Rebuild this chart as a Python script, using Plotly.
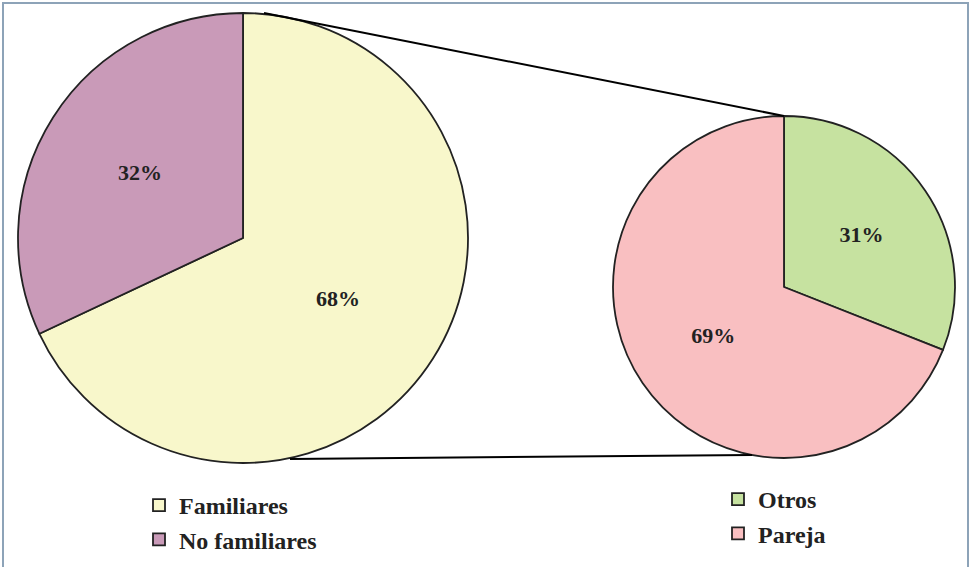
import plotly.graph_objects as go

W, H = 970, 567

main_labels = ["Familiares", "No familiares"]
main_values = [68, 32]
main_colors = ["#F8F7CB", "#C99AB8"]

sub_labels = ["Otros", "Pareja"]
sub_values = [31, 69]
sub_colors = ["#C6E2A0", "#F9BFC1"]

def px_x(x):
    return x / W

def px_y(y):
    return 1 - y / H

font_fam = "Liberation Serif"
line = dict(color="#222222", width=1.8)

fig = go.Figure()
fig.add_trace(go.Pie(
    labels=main_labels, values=main_values, sort=False, direction="clockwise", rotation=0,
    marker=dict(colors=main_colors, line=line),
    textinfo="percent", texttemplate="%{percent:.0%}", textposition="inside",
    insidetextorientation="horizontal",
    textfont=dict(family=font_fam, size=22, color="#222222", weight="bold"),
    domain=dict(x=[px_x(18), px_x(468)], y=[px_y(463), px_y(13)]),
    legend="legend", hoverinfo="label+percent",
))
fig.add_trace(go.Pie(
    labels=sub_labels, values=sub_values, sort=False, direction="clockwise", rotation=0,
    marker=dict(colors=sub_colors, line=line),
    textinfo="percent", texttemplate="%{percent:.0%}", textposition="inside",
    insidetextorientation="horizontal",
    textfont=dict(family=font_fam, size=22, color="#222222", weight="bold"),
    domain=dict(x=[px_x(613), px_x(955)], y=[px_y(458), px_y(116)]),
    legend="legend2", hoverinfo="label+percent",
))

legend_font = dict(family=font_fam, size=24, color="#222222", weight="bold")
fig.update_layout(
    width=W, height=H,
    margin=dict(l=0, r=0, t=0, b=0),
    paper_bgcolor="white", plot_bgcolor="white",
    legend=dict(x=px_x(139), y=px_y(483), xanchor="left", yanchor="top",
                font=legend_font, bgcolor="rgba(0,0,0,0)"),
    legend2=dict(x=px_x(718), y=px_y(477), xanchor="left", yanchor="top",
                 font=legend_font, bgcolor="rgba(0,0,0,0)"),
    shapes=[
        dict(type="rect", xref="paper", yref="paper",
             x0=px_x(3), x1=px_x(968), y0=px_y(575), y1=px_y(3),
             line=dict(color="#8DA3B8", width=2)),
        dict(type="line", xref="paper", yref="paper",
             x0=px_x(264), y0=px_y(13), x1=px_x(784), y1=px_y(116),
             line=dict(color="black", width=2)),
        dict(type="line", xref="paper", yref="paper",
             x0=px_x(290), y0=px_y(459), x1=px_x(752), y1=px_y(455),
             line=dict(color="black", width=2)),
    ],
)

fig.write_html("out.html")
